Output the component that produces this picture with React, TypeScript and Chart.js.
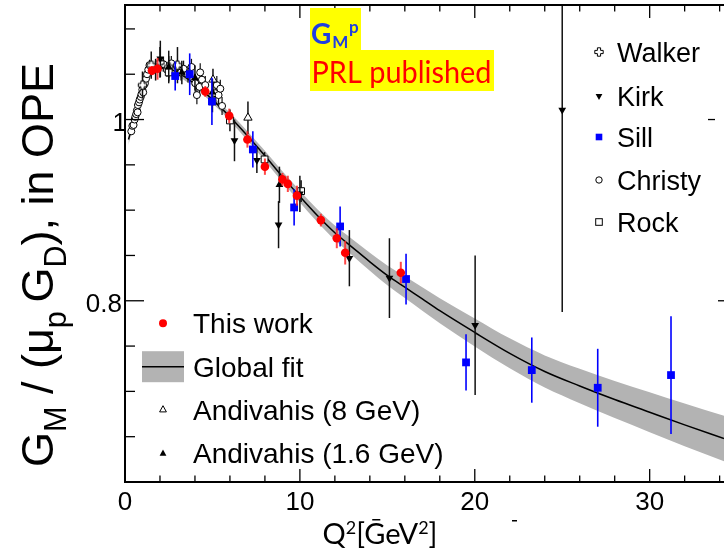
import React, { useEffect, useRef } from 'react';
import { Chart, registerables } from 'chart.js';
Chart.register(...registerables);

// ---------------- data ----------------
const thisWorkQ2 = [1.54, 1.86, 4.59, 5.96, 7.0, 8.0, 9.0, 9.31, 9.83, 11.2, 12.11, 12.59, 15.77];
const thisWorkG = [1.054, 1.056, 1.031, 1.004, 0.978, 0.948, 0.934, 0.929, 0.916, 0.889, 0.869, 0.853, 0.831];
const thisWorkErr = [0.005, 0.012, 0.006, 0.008, 0.009, 0.009, 0.007, 0.009, 0.011, 0.007, 0.011, 0.013, 0.012];

const sillQ2 = [2.87, 3.7, 4.97, 7.31, 9.67, 12.3, 16.07, 19.5, 23.26, 27.03, 31.22];
const sillG = [1.048, 1.05, 1.02, 0.967, 0.903, 0.882, 0.824, 0.732, 0.7235, 0.704, 0.718];
const sillErr = [0.016, 0.023, 0.026, 0.02, 0.02, 0.022, 0.028, 0.031, 0.036, 0.043, 0.065];

const kirkQ2 = [2.02, 6.26, 7.54, 8.78, 10.0, 12.83, 15.12, 20.02, 25.0];
const kirkG = [1.067, 0.977, 0.955, 0.884, 0.918, 0.847, 0.825, 0.773, 1.0105];
const kirkErr = [0.02, 0.023, 0.014, 0.026, 0.02, 0.031, 0.044, 0.077, 0.223];

const andi8Q2 = [5.03, 7.03];
const andi8G = [1.044, 1.002];
const andi8Err = [0.012, 0.018];

const andi16Q2 = [1.75, 2.5, 3.25, 4.0, 5.0, 8.83];
const andi16G = [1.055, 1.058, 1.052, 1.046, 1.03, 0.928];
const andi16Err = [0.012, 0.012, 0.013, 0.014, 0.015, 0.02];

const rockQ2 = [2.5, 5.0, 6.0, 7.98, 10.07];
const rockG = [1.052, 1.02, 0.999, 0.956, 0.921];
const rockErr = [0.01, 0.012, 0.012, 0.008, 0.012];

const walkerQ2 = [1.0, 1.5, 2.0, 2.5, 3.0];
const walkerG = [1.038, 1.06, 1.063, 1.058, 1.06];
const walkerErr = [0.015, 0.015, 0.017, 0.018, 0.02];

const christyQ2 = [0.36, 0.42, 0.49, 0.55, 0.59, 0.64, 0.68, 0.72, 0.74, 0.8, 0.84, 0.9, 0.94, 0.99, 1.04, 1.08, 1.14, 1.2, 1.26, 1.33, 1.4, 2.2, 2.4, 2.65, 3.0, 3.2, 3.35, 3.6, 3.8, 4.02, 4.11, 4.26, 4.3, 4.4, 4.59, 5.16, 5.25, 5.35, 5.45, 5.55];
const christyG = [0.987, 0.993, 0.994, 1.0, 1.003, 1.006, 1.01, 1.008, 1.016, 1.019, 1.022, 1.025, 1.028, 1.033, 1.03, 1.038, 1.04, 1.045, 1.05, 1.055, 1.06, 1.061, 1.055, 1.062, 1.058, 1.052, 1.056, 1.05, 1.058, 1.04, 1.027, 1.036, 1.052, 1.044, 1.038, 1.029, 1.038, 1.027, 1.034, 1.015];
const christyErr = [0.004, 0.004, 0.004, 0.004, 0.004, 0.004, 0.004, 0.004, 0.004, 0.004, 0.004, 0.005, 0.005, 0.005, 0.005, 0.005, 0.005, 0.006, 0.006, 0.006, 0.006, 0.008, 0.008, 0.008, 0.008, 0.009, 0.009, 0.009, 0.009, 0.01, 0.01, 0.01, 0.01, 0.01, 0.01, 0.01, 0.01, 0.01, 0.01, 0.01];

const fitQ2 = [0.2, 0.3, 0.5, 0.7, 1.0, 1.3, 1.6, 2.0, 2.5, 3.0, 3.5, 4.0, 5.0, 6.0, 7.0, 8.0, 9.0, 10.0, 11.0, 12.0, 13.0, 14.0, 15.0, 16.0, 17.0, 18.0, 20.0, 22.0, 24.0, 26.0, 28.0, 30.0, 32.0, 34.25];
const fitG = [0.978, 0.985, 0.999, 1.013, 1.032, 1.046, 1.054, 1.057, 1.056, 1.052, 1.046, 1.039, 1.022, 1.003, 0.982, 0.96, 0.937, 0.915, 0.894, 0.875, 0.859, 0.843, 0.828, 0.815, 0.802, 0.789, 0.765, 0.742, 0.722, 0.706, 0.691, 0.677, 0.663, 0.648];
const fitBand = [0.006, 0.005, 0.004, 0.004, 0.004, 0.004, 0.004, 0.004, 0.004, 0.004, 0.004, 0.004, 0.004, 0.0045, 0.005, 0.0055, 0.006, 0.0065, 0.007, 0.008, 0.009, 0.01, 0.011, 0.012, 0.013, 0.0138, 0.0155, 0.0165, 0.0177, 0.019, 0.0205, 0.022, 0.0235, 0.025];

const xMajorTicks = [0, 10, 20, 30];
const xTickLabels = ['0', '10', '20', '30'];
const xMinorTicks = [2, 4, 6, 8, 12, 14, 16, 18, 22, 24, 26, 28, 32, 34];
const yMajorTicks = [0.6, 0.8, 1.0];
const yLabelValues = [0.8, 1.0];
const yTickLabels = ['0.8', '1'];
const yMinorTicks = [0.65, 0.7, 0.75, 0.85, 0.9, 0.95, 1.05, 1.1];

const legendRight = ['Walker', 'Kirk', 'Sill', 'Christy', 'Rock'];
const legendLeft = ['This work', 'Global fit', 'Andivahis (8 GeV)', 'Andivahis (1.6 GeV)'];

const SANS = '"Liberation Sans", Arial, Helvetica, sans-serif';
const CAL = 'Lato, "Open Sans", sans-serif';

function pts(xs: number[], ys: number[]) {
  return xs.map((x, i) => ({ x, y: ys[i] }));
}

function makeCrossImage(): HTMLCanvasElement {
  const c = document.createElement('canvas');
  c.width = 11; c.height = 11;
  const g = c.getContext('2d')!;
  drawCross(g, 5.5, 5.5);
  return c;
}

function drawCross(g: CanvasRenderingContext2D, x: number, y: number) {
  const a = 1.6, l = 4.2;
  g.save();
  g.beginPath();
  g.moveTo(x - a, y - l); g.lineTo(x + a, y - l); g.lineTo(x + a, y - a); g.lineTo(x + l, y - a);
  g.lineTo(x + l, y + a); g.lineTo(x + a, y + a); g.lineTo(x + a, y + l); g.lineTo(x - a, y + l);
  g.lineTo(x - a, y + a); g.lineTo(x - l, y + a); g.lineTo(x - l, y - a); g.lineTo(x - a, y - a);
  g.closePath();
  g.fillStyle = '#fff'; g.fill();
  g.strokeStyle = '#000'; g.lineWidth = 1; g.stroke();
  g.restore();
}

function drawMarker(g: CanvasRenderingContext2D, kind: string, x: number, y: number) {
  g.save();
  g.lineWidth = 1;
  g.strokeStyle = '#000';
  if (kind === 'red') {
    g.beginPath(); g.arc(x, y, 4, 0, Math.PI * 2); g.fillStyle = '#ff0000'; g.fill();
  } else if (kind === 'triOpen' || kind === 'triFill') {
    g.beginPath(); g.moveTo(x, y - 3.8); g.lineTo(x - 3.4, y + 2.4); g.lineTo(x + 3.4, y + 2.4); g.closePath();
    if (kind === 'triFill') { g.fillStyle = '#000'; g.fill(); } else { g.fillStyle = '#fff'; g.fill(); g.stroke(); }
  } else if (kind === 'triDown') {
    g.beginPath(); g.moveTo(x, y + 3.6); g.lineTo(x - 3.4, y - 2.6); g.lineTo(x + 3.4, y - 2.6); g.closePath();
    g.fillStyle = '#000'; g.fill();
  } else if (kind === 'cross') {
    drawCross(g, x, y);
  } else if (kind === 'sq') {
    g.fillStyle = '#0000ff'; g.fillRect(x - 3.3, y - 3.3, 6.6, 6.6);
  } else if (kind === 'circOpen') {
    g.beginPath(); g.arc(x, y, 3.2, 0, Math.PI * 2); g.stroke();
  } else if (kind === 'sqOpen') {
    g.strokeRect(x - 3.3, y - 3.3, 6.6, 6.6);
  }
  g.restore();
}

export default function App() {
  const ref = useRef<HTMLCanvasElement>(null);

  useEffect(() => {
    const canvas = ref.current!;
    const crossImg = makeCrossImage();

    const errorBars = {
      id: 'errorBars',
      beforeDatasetDraw(chart: any, args: any) {
        const ds: any = chart.data.datasets[args.index];
        if (!ds.errs) return;
        const { ctx, chartArea, scales } = chart;
        ctx.save();
        ctx.beginPath();
        ctx.rect(chartArea.left, chartArea.top, chartArea.right - chartArea.left, chartArea.bottom - chartArea.top);
        ctx.clip();
        ctx.strokeStyle = ds.errColor;
        ctx.lineWidth = ds.errWidth || 1.5;
        ds.data.forEach((p: any, i: number) => {
          const e = ds.errs[i];
          const x = scales.x.getPixelForValue(p.x);
          const y1 = scales.y.getPixelForValue(p.y - e);
          const y2 = scales.y.getPixelForValue(p.y + e);
          ctx.beginPath(); ctx.moveTo(x, y1); ctx.lineTo(x, y2); ctx.stroke();
        });
        ctx.restore();
      },
    };

    const decor = {
      id: 'decor',
      afterDraw(chart: any) {
        const { ctx, chartArea, scales } = chart;
        const xs = scales.x, ys = scales.y;
        const L = chartArea.left, T = chartArea.top, B = chartArea.bottom, R = chartArea.right;
        ctx.save();
        // frame
        ctx.strokeStyle = '#000';
        ctx.lineWidth = 2;
        ctx.beginPath();
        ctx.moveTo(R + 2, T); ctx.lineTo(L, T); ctx.lineTo(L, B); ctx.lineTo(R + 2, B);
        ctx.stroke();
        // ticks
        ctx.lineWidth = 1.3;
        const xt = (v: number, len: number) => {
          const px = xs.getPixelForValue(v);
          ctx.beginPath(); ctx.moveTo(px, B); ctx.lineTo(px, B - len); ctx.stroke();
          ctx.beginPath(); ctx.moveTo(px, T); ctx.lineTo(px, T + len); ctx.stroke();
        };
        xMajorTicks.forEach((v) => xt(v, 13));
        xMinorTicks.forEach((v) => xt(v, 6.5));
        const yt = (v: number, len: number) => {
          const py = ys.getPixelForValue(v);
          ctx.beginPath(); ctx.moveTo(L, py); ctx.lineTo(L + len, py); ctx.stroke();
        };
        yMajorTicks.forEach((v) => yt(v, 19));
        yMinorTicks.forEach((v) => yt(v, 10));
        // tick labels
        ctx.fillStyle = '#000';
        ctx.font = `26px ${SANS}`;
        ctx.textAlign = 'center';
        ctx.textBaseline = 'alphabetic';
        xMajorTicks.forEach((v, i) => ctx.fillText(xTickLabels[i], xs.getPixelForValue(v), 510));
        ctx.textAlign = 'right';
        yLabelValues.forEach((v, i) => {
          const t = yTickLabels[i];
          ctx.fillText(t, t === '1' ? L + 2 : L - 3, ys.getPixelForValue(v) + 11);
        });

        // y title (rotated)
        const segs = [
          { t: 'G', s: 0 }, { t: 'M', s: 1 }, { t: ' / (\u03bc', s: 0 }, { t: 'p', s: 1 }, { t: ' ', s: 1 },
          { t: 'G', s: 0 }, { t: 'D', s: 1 }, { t: '), in OPE', s: 0 },
        ];
        const fs = 45;
        const w = segs.map((sg) => { ctx.font = `${sg.s ? fs * 0.68 : fs}px ${SANS}`; return ctx.measureText(sg.t).width; });
        const total = w.reduce((a, b) => a + b, 0);
        ctx.save();
        ctx.translate(53, 265);
        ctx.rotate(-Math.PI / 2);
        ctx.textAlign = 'left';
        let cx = -total / 2;
        segs.forEach((sg, i) => {
          ctx.font = `${sg.s ? fs * 0.68 : fs}px ${SANS}`;
          ctx.fillText(sg.t, cx, sg.s ? fs * 0.28 : 0);
          cx += w[i];
        });
        ctx.restore();

        // x title
        const xsegs = [
          { t: 'Q', s: 0 }, { t: '2', s: 1 }, { t: '[\u1e20eV', s: 0 }, { t: '2', s: 1 }, { t: ']', s: 0 },
        ];
        const xf = 29;
        const xw = xsegs.map((sg) => { ctx.font = `${sg.s ? xf * 0.62 : xf}px ${CAL}`; return ctx.measureText(sg.t).width; });
        const xtot = xw.reduce((a, b) => a + b, 0);
        let xx = 380 - xtot / 2;
        ctx.textAlign = 'left';
        xsegs.forEach((sg, i) => {
          ctx.font = `${sg.s ? xf * 0.62 : xf}px ${CAL}`;
          ctx.fillText(sg.t, xx, sg.s ? 544 - xf * 0.36 : 544);
          xx += xw[i];
        });
        // small stray mark
        ctx.fillRect(512, 520, 5, 1.5);
        // right-edge marks
        ctx.lineWidth = 1.3;
        ctx.beginPath(); ctx.moveTo(708, ys.getPixelForValue(1.0)); ctx.lineTo(715, ys.getPixelForValue(1.0)); ctx.stroke();
        ctx.beginPath(); ctx.moveTo(718, ys.getPixelForValue(0.8)); ctx.lineTo(724, ys.getPixelForValue(0.8)); ctx.stroke();

        // right legend
        const rk = ['cross', 'triDown', 'sq', 'circOpen', 'sqOpen'];
        const ry = [52, 96.5, 137, 180, 222];
        legendRight.forEach((t, i) => {
          drawMarker(ctx, rk[i], 599, ry[i]);
          ctx.fillStyle = '#000';
          ctx.font = `27px ${SANS}`;
          ctx.textAlign = 'left';
          ctx.fillText(t, 617, ry[i] + 9.7);
        });
        // left legend
        const ly = [323.3, 366.7, 409.5, 453.3];
        legendLeft.forEach((t, i) => {
          if (i === 0) drawMarker(ctx, 'red', 163, ly[i]);
          if (i === 1) {
            ctx.fillStyle = '#b3b3b3';
            ctx.fillRect(142, ly[i] - 15.5, 42, 31);
            ctx.strokeStyle = '#000'; ctx.lineWidth = 1.5;
            ctx.beginPath(); ctx.moveTo(142, ly[i]); ctx.lineTo(184, ly[i]); ctx.stroke();
          }
          if (i === 2) drawMarker(ctx, 'triOpen', 163, ly[i]);
          if (i === 3) drawMarker(ctx, 'triFill', 163, ly[i]);
          ctx.fillStyle = '#000';
          ctx.font = `28px ${SANS}`;
          ctx.textAlign = 'left';
          ctx.fillText(t, 193, ly[i] + 10);
        });

        // annotation box
        ctx.fillStyle = '#ffff00';
        ctx.fillRect(310, 8, 51, 42);
        ctx.fillRect(310, 50, 184, 41);
        ctx.fillStyle = '#1f3fe0';
        ctx.font = `bold 28px ${CAL}`;
        ctx.textAlign = 'left';
        ctx.fillText('G', 311, 44.3);
        const gw = ctx.measureText('G').width;
        ctx.font = `bold 17px ${CAL}`;
        ctx.fillText('M', 311 + gw + 1, 47.7);
        const mw = ctx.measureText('M').width;
        ctx.fillText('p', 311 + gw + mw + 1.5, 33);
        ctx.fillStyle = '#ff0000';
        ctx.font = `31px ${CAL}`;
        ctx.fillText('PRL published', 311.5, 82.7, 180);
        ctx.restore();
      },
    };

    const lowerBand = fitQ2.map((q, i) => ({ x: q, y: fitG[i] - fitBand[i] }));
    const upperBand = fitQ2.map((q, i) => ({ x: q, y: fitG[i] + fitBand[i] }));

    const chart = new Chart(canvas, {
      type: 'scatter',
      data: {
        datasets: [
          { label: 'This work', data: pts(thisWorkQ2, thisWorkG), errs: thisWorkErr, errColor: 'rgba(255,40,40,0.85)', errWidth: 2,
            pointStyle: 'circle', pointRadius: 4.3, pointBackgroundColor: '#ff0000', pointBorderColor: '#ff0000', pointBorderWidth: 0, order: 0 } as any,
          { label: 'Sill', data: pts(sillQ2, sillG), errs: sillErr, errColor: '#0000ff', errWidth: 1.6,
            pointStyle: 'rect', pointRadius: 5.5, pointBackgroundColor: '#0000ff', pointBorderColor: '#0000ff', pointBorderWidth: 0, order: 1 } as any,
          { label: 'Kirk', data: pts(kirkQ2, kirkG), errs: kirkErr, errColor: '#111', errWidth: 1.5,
            pointStyle: 'triangle', pointRotation: 180, pointRadius: 4.5, pointBackgroundColor: '#000', pointBorderColor: '#000', pointBorderWidth: 0, order: 2 } as any,
          { label: 'Andivahis (1.6 GeV)', data: pts(andi16Q2, andi16G), errs: andi16Err, errColor: '#111', errWidth: 1.5,
            pointStyle: 'triangle', pointRadius: 4.5, pointBackgroundColor: '#000', pointBorderColor: '#000', pointBorderWidth: 0, order: 3 } as any,
          { label: 'Andivahis (8 GeV)', data: pts(andi8Q2, andi8G), errs: andi8Err, errColor: '#111', errWidth: 1.5,
            pointStyle: 'triangle', pointRadius: 4.8, pointBackgroundColor: '#fff', pointBorderColor: '#000', pointBorderWidth: 1, order: 4 } as any,
          { label: 'Rock', data: pts(rockQ2, rockG), errs: rockErr, errColor: '#111', errWidth: 1.5,
            pointStyle: 'rect', pointRadius: 4.8, pointBackgroundColor: '#fff', pointBorderColor: '#000', pointBorderWidth: 1, order: 5 } as any,
          { label: 'Walker', data: pts(walkerQ2, walkerG), errs: walkerErr, errColor: '#111', errWidth: 1.5,
            pointStyle: crossImg, pointRadius: 5, order: 6 } as any,
          { label: 'Christy', data: pts(christyQ2, christyG), errs: christyErr, errColor: '#111', errWidth: 1.2,
            pointStyle: 'circle', pointRadius: 3.5, pointBackgroundColor: '#fff', pointBorderColor: '#000', pointBorderWidth: 1, order: 7 } as any,
          { label: 'fit', data: pts(fitQ2, fitG), showLine: true, borderColor: '#000', borderWidth: 1.5, pointRadius: 0, cubicInterpolationMode: 'monotone', fill: false, order: 8 } as any,
          { label: 'band-lo', data: lowerBand, showLine: true, borderWidth: 0, borderColor: 'rgba(0,0,0,0)', pointRadius: 0, cubicInterpolationMode: 'monotone', fill: false, order: 10 } as any,
          { label: 'band-hi', data: upperBand, showLine: true, borderWidth: 0, borderColor: 'rgba(0,0,0,0)', backgroundColor: '#b3b3b3', pointRadius: 0, cubicInterpolationMode: 'monotone', fill: '-1', order: 9 } as any,
        ],
      },
      options: {
        animation: false,
        responsive: false,
        layout: { autoPadding: false, padding: { left: 125, top: 5, right: 0, bottom: 69 } },
        plugins: { legend: { display: false }, tooltip: { enabled: false } },
        scales: {
          x: { type: 'linear', min: 0, max: 34.25, display: false },
          y: { type: 'linear', min: 0.6, max: 1.1264, display: false },
        },
      },
      plugins: [errorBars, decor],
    });
    return () => chart.destroy();
  }, []);

  return (
    <div style={{ position: 'fixed', left: 0, top: 0, width: 724, height: 551, background: '#fff' }}>
      <canvas ref={ref} width={724} height={551} style={{ display: 'block', width: 724, height: 551 }} />
    </div>
  );
}
